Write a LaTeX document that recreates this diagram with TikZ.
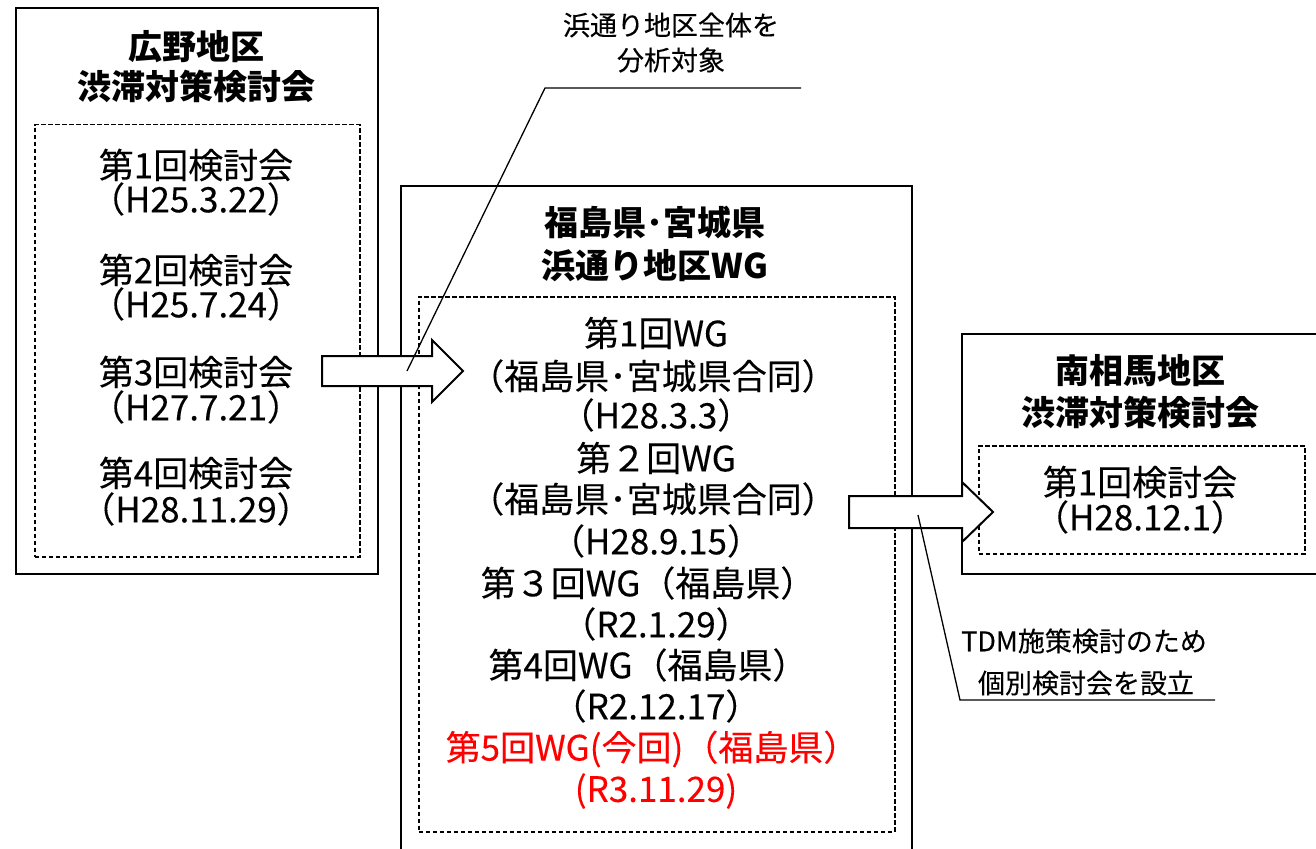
\documentclass[tikz,border=0pt]{standalone}
\usepackage{fontspec}
\setmainfont{Noto Sans CJK JP}
\newfontfamily\jpreg[FakeBold=0.2]{Noto Sans CJK JP}
\definecolor{cred}{RGB}{255,0,0}
\begin{document}
\begin{tikzpicture}[x=1pt,y=-1pt,
  obox/.style={draw, line width=2pt, anchor=north west, inner sep=0pt},
  dbox/.style={draw, line width=1.5pt, dash pattern=on 4.5pt off 2.5pt, anchor=north west, inner sep=0pt},
  ttl/.style={inner sep=0pt, font=\fontsize{34}{40}\bfseries\selectfont},
  txt/.style={inner sep=0pt, font=\jpreg\fontsize{35}{40}\selectfont},
  ctxt/.style={inner sep=0pt, font=\jpreg\fontsize{27}{32}\selectfont},
  barrow/.style={draw, fill=white, line width=2pt, line join=miter},
  cline/.style={draw, line width=1.3pt}
]
\useasboundingbox (0,0) rectangle (1316,848);
% outer boxes
\node[obox, minimum width=362pt, minimum height=566pt] (L) at (15,7) {};
\node[obox, minimum width=511pt, minimum height=700pt] (M) at (400,185) {};
\node[obox, minimum width=400pt, minimum height=240pt] (R) at (961,333) {};
% dashed boxes
\node[dbox, minimum width=325pt, minimum height=432pt] (Ld) at (34,124) {};
\node[dbox, minimum width=476pt, minimum height=535pt] (Md) at (418,296) {};
\node[dbox, minimum width=326pt, minimum height=108pt] (Rd) at (978,445) {};
% left box texts
\node[ttl] (lt1) at (196,47) {広野地区};
\node[ttl] (lt2) at (196,87) {渋滞対策検討会};
\node[txt] (l1a) at (196,165) {第1回検討会};
\node[txt] (l1b) at (196,199) {（H25.3.22）};
\node[txt] (l2a) at (196,270) {第2回検討会};
\node[txt] (l2b) at (196,304) {（H25.7.24）};
\node[txt] (l3a) at (196,372) {第3回検討会};
\node[txt] (l3b) at (196,407) {（H27.7.21）};
\node[txt] (l4a) at (196,473) {第4回検討会};
\node[txt] (l4b) at (196,509) {（H28.11.29）};
% middle box texts
\node[ttl] (mt1) at (655,222) {福島県･宮城県};
\node[ttl] (mt2) at (655,266) {浜通り地区WG};
\node[txt] (m1) at (656,333) {第1回WG};
\node[txt] (m2) at (653,376) {（福島県･宮城県合同）};
\node[txt] (m3) at (656,415) {（H28.3.3）};
\node[txt] (m4) at (656,458) {第２回WG};
\node[txt] (m5) at (653,499) {（福島県･宮城県合同）};
\node[txt] (m6) at (656,541) {（H28.9.15）};
\node[txt] (m7) at (648,583) {第３回WG（福島県）};
\node[txt] (m8) at (656,624) {（R2.1.29）};
\node[txt] (m9) at (648,665) {第4回WG（福島県）};
\node[txt] (m10) at (656,706) {（R2.12.17）};
\node[txt, text=cred] (m11) at (652,749) {第5回WG(今回)（福島県）};
\node[txt, text=cred] (m12) at (656,791) {(R3.11.29)};
% right box texts
\node[ttl] (rt1) at (1140,371) {南相馬地区};
\node[ttl] (rt2) at (1140,413) {渋滞対策検討会};
\node[txt] (r1) at (1140,482) {第1回検討会};
\node[txt] (r2) at (1140,517) {（H28.12.1）};
% block arrows
\draw[barrow] (322,356) -- (432,356) -- (432,340) -- (463,371) -- (432,402) -- (432,386) -- (322,386) -- cycle;
\draw[barrow] (849,496) -- (962,496) -- (962,482) -- (993,512) -- (962,542) -- (962,528) -- (849,528) -- cycle;
% callout 1
\node[ctxt] (c1t1) at (671,25) {浜通り地区全体を};
\node[ctxt] (c1t2) at (671,60) {分析対象};
\coordinate (c1a) at (801,88);
\coordinate (c1b) at (545,88);
\coordinate (c1c) at (407,371);
\draw[cline] (c1a) -- (c1b) -- (c1c);
% callout 2
\node[ctxt] (c2t1) at (1084,641) {TDM施策検討のため};
\node[ctxt] (c2t2) at (1086,683) {個別検討会を設立};
\coordinate (c2a) at (1215,700);
\coordinate (c2b) at (960,700);
\coordinate (c2c) at (918,515);
\draw[cline] (c2a) -- (c2b) -- (c2c);
\end{tikzpicture}
\end{document}
